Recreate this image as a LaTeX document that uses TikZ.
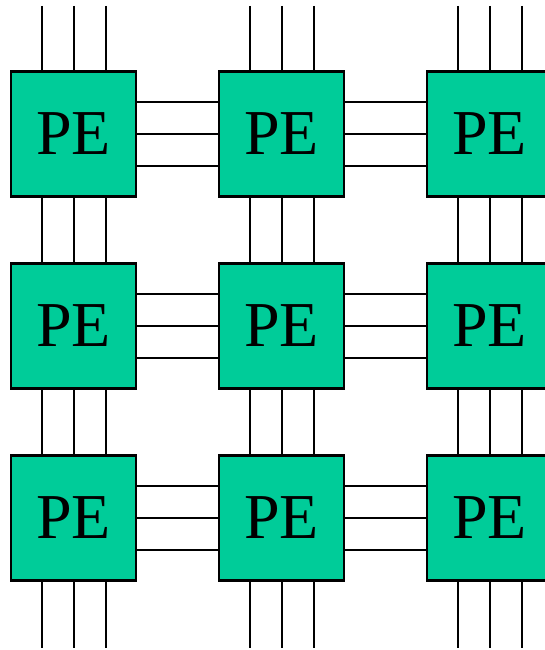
\documentclass[tikz,border=0pt]{standalone}
\usepackage{fontspec}
\setmainfont{Liberation Serif}
\definecolor{pegreen}{HTML}{00CC99}
\begin{document}
\begin{tikzpicture}[x=1pt,y=-1pt,
  pebox/.style={draw=black, line width=2.5pt, fill=pegreen, minimum width=125pt,
    minimum height=125pt, inner sep=0pt, outer sep=0pt,
    font=\fontsize{64}{64}\selectfont},
  wire/.style={line width=2pt, black}]
\useasboundingbox (0,0) rectangle (545,650);
\clip (0,0) rectangle (545,650);
% grid of processing elements
\foreach \r/\y in {1/134, 2/326, 3/518}
  \foreach \c/\x in {1/73.5, 2/281.5, 3/489.5}
    \coordinate (c\r\c) at (\x,\y);
% free ends of the outer vertical wires
\foreach \c/\x in {1/73.5, 2/281.5, 3/489.5} {
  \coordinate (top\c) at (\x,6);
  \coordinate (bot\c) at (\x,648);
}
% vertical wires: three per column
\foreach \c in {1,2,3}
  \foreach \d in {-32,0,32} {
    \draw[wire] ([xshift=\d]top\c) -- ([xshift=\d]c1\c);
    \draw[wire] ([xshift=\d]c1\c) -- ([xshift=\d]c2\c);
    \draw[wire] ([xshift=\d]c2\c) -- ([xshift=\d]c3\c);
    \draw[wire] ([xshift=\d]c3\c) -- ([xshift=\d]bot\c);
  }
% horizontal wires: three per row
\foreach \r in {1,2,3}
  \foreach \d in {-32,0,32} {
    \draw[wire] ([yshift=\d]c\r1) -- ([yshift=\d]c\r2);
    \draw[wire] ([yshift=\d]c\r2) -- ([yshift=\d]c\r3);
  }
% processing elements on top of the wires
\foreach \r in {1,2,3}
  \foreach \c in {1,2,3}
    \node[pebox] (pe\r\c) at (c\r\c) {PE};
\end{tikzpicture}
\end{document}
